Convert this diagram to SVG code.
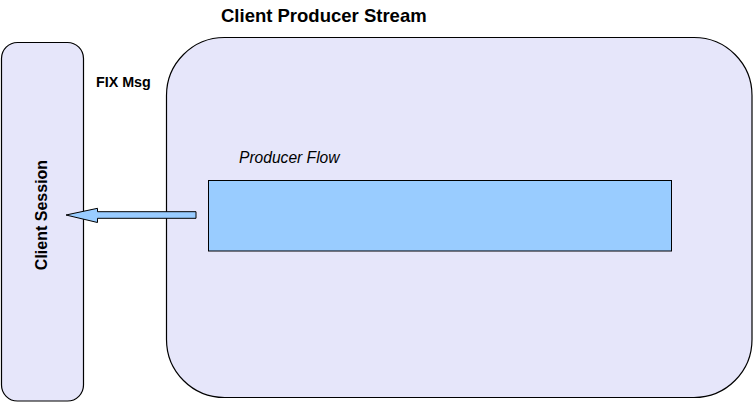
<svg xmlns="http://www.w3.org/2000/svg" width="753" height="402" viewBox="0 0 753 402">
<style>
.box{fill:#E6E6FA;stroke:#000;stroke-width:1.2}
.inner{fill:#99CCFF;stroke:#000;stroke-width:1}
.arrow{fill:#99CCFF;stroke:#000;stroke-width:1}
.b{font-family:"Liberation Sans",Arial,sans-serif;font-weight:bold;fill:#000}
.i{font-family:"Liberation Sans",Arial,sans-serif;font-style:italic;fill:#000}
</style>
<rect width="753" height="402" fill="#fff"/>
<g id="client-producer-stream">
<rect class="box" x="166.5" y="37.5" width="585.5" height="360" rx="58" ry="58"/>
<text class="b" x="221" y="22" font-size="18.5">Client Producer Stream</text>
</g>
<g id="client-session">
<rect class="box" x="1.5" y="42.5" width="82" height="358.5" rx="16" ry="16"/>
<text class="b" font-size="16" text-anchor="middle" transform="translate(47,215) rotate(-90)">Client Session</text>
</g>
<g id="producer-flow">
<rect class="inner" x="208.5" y="180.5" width="463" height="70.5"/>
<text class="i" x="239" y="163" font-size="15.6">Producer Flow</text>
</g>
<g id="connectors">
<polygon class="arrow" points="196,211.7 97.5,211.7 97.5,208.3 66,215 97.5,222.5 97.5,218.3 196,218.3"/>
<text class="b" x="96" y="87" font-size="14.3">FIX Msg</text>
</g>
</svg>
